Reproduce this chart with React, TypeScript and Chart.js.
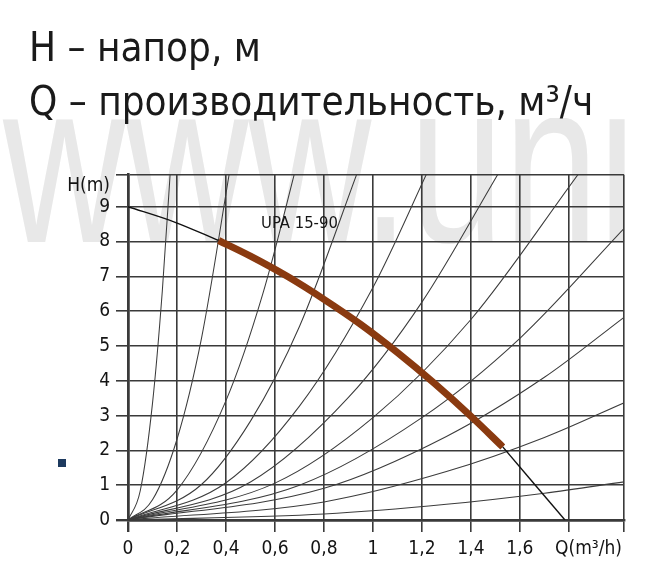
import React, { useEffect, useRef } from "react";
import { Chart, registerables } from "chart.js";

Chart.register(...registerables);

// ---- text ----
const TITLE_LINES = ["H – напор, м", "Q – производительность, м³/ч"];
const WATERMARK = "www.uni";
const CURVE_LABEL = "UPA 15-90";
const CURVE_LABEL_Q = 0.7;
const CURVE_LABEL_H = 8.5;

// ---- axes ----
const Q_TICKS = [0, 0.2, 0.4, 0.6, 0.8, 1, 1.2, 1.4, 1.6, 1.8];
const Q_LABELS = ["0", "0,2", "0,4", "0,6", "0,8", "1", "1,2", "1,4", "1,6", ""];
const Q_MAX = 2.025;
const Q_UNIT = "Q(m³/h)";
const Q_UNIT_AT = 1.88;

const H_TICKS = [0, 1, 2, 3, 4, 5, 6, 7, 8, 9];
const H_LABELS = ["0", "1", "2", "3", "4", "5", "6", "7", "8", "9"];
const H_MAX = 9.92;
const H_UNIT = "H(m)";

// ---- pump curve (UPA 15-90) ----
const HEAD_START_Q = [0, 0.19, 0.37];
const HEAD_START_H = [9, 8.56, 8.03];
const WORK_Q = [0.37, 0.5, 0.65, 0.8, 0.95, 1.1, 1.25, 1.4, 1.53];
const WORK_H = [8.03, 7.58, 7.0, 6.34, 5.62, 4.81, 3.93, 2.98, 2.1];
const TAIL_Q = [1.53, 1.784];
const TAIL_H = [2.1, 0];

// ---- system (pipe) curves ----
const SYS_Q = [
  [0, 0.05, 0.1, 0.14, 0.175],
  [0, 0.1, 0.2, 0.3, 0.42],
  [0, 0.2, 0.4, 0.55, 0.7],
  [0, 0.3, 0.5, 0.7, 0.95],
  [0, 0.4, 0.7, 1.0, 1.23],
  [0, 0.5, 0.9, 1.2, 1.52],
  [0, 0.6, 1.0, 1.4, 1.84],
  [0, 0.7, 1.2, 1.6, 2.03],
  [0, 0.8, 1.3, 1.7, 2.03],
  [0, 0.8, 1.3, 1.7, 2.03],
  [0, 0.8, 1.3, 1.7, 2.03],
];
const SYS_H = [
  [0, 0.84, 3.35, 6.57, 10.26],
  [0, 0.58, 2.32, 5.22, 10.23],
  [0, 0.86, 3.43, 6.49, 10.51],
  [0, 1.02, 2.84, 5.56, 10.24],
  [0, 1.07, 3.27, 6.68, 10.11],
  [0, 1.09, 3.52, 6.26, 10.05],
  [0, 1.06, 2.94, 5.76, 9.95],
  [0, 1.0, 2.94, 5.22, 8.41],
  [0, 0.91, 2.4, 4.1, 5.85],
  [0, 0.52, 1.39, 2.37, 3.38],
  [0, 0.17, 0.45, 0.77, 1.1],
];

const FONT = "'DejaVu Sans Condensed', 'DejaVu Sans', sans-serif";
const GRID = "#3a3a3a";
const TEXT = "#141414";
const BROWN = "#8a3a10";

const pts = (q: number[], h: number[]) => q.map((v, i) => ({ x: v, y: h[i] }));

const lineDs = (q: number[], h: number[], color: string, width: number) => ({
  data: pts(q, h),
  borderColor: color,
  backgroundColor: color,
  borderWidth: width,
  pointRadius: 0,
  fill: false,
  cubicInterpolationMode: "monotone" as const,
  borderCapStyle: "butt" as const,
});

const near = (a: number, b: number) => Math.abs(a - b) < 1e-6;

export default function App() {
  const ref = useRef<HTMLCanvasElement | null>(null);

  useEffect(() => {
    document.body.style.margin = "0";
    const canvas = ref.current;
    if (!canvas) return;

    const watermark = {
      id: "watermark",
      beforeDraw(chart: any) {
        const ctx = chart.ctx;
        ctx.save();
        ctx.beginPath();
        ctx.rect(0, 118, chart.width, 140);
        ctx.clip();
        ctx.fillStyle = "#e8e8e8";
        ctx.font = "170px 'Liberation Sans', Arial, sans-serif";
        ctx.textBaseline = "alphabetic";
        ctx.textAlign = "left";
        ctx.translate(3, 242);
        ctx.scale(1, 1.36);
        ctx.fillText(WATERMARK, 0, 0);
        ctx.restore();
      },
    };

    const curveLabel = {
      id: "curveLabel",
      afterDatasetsDraw(chart: any) {
        const ctx = chart.ctx;
        const x = chart.scales.x.getPixelForValue(CURVE_LABEL_Q);
        const y = chart.scales.y.getPixelForValue(CURVE_LABEL_H);
        ctx.save();
        ctx.fillStyle = TEXT;
        ctx.font = `16.5px ${FONT}`;
        ctx.textAlign = "center";
        ctx.textBaseline = "middle";
        ctx.fillText(CURVE_LABEL, x, y);
        ctx.restore();
      },
    };

    const datasets: any[] = [
      lineDs(WORK_Q, WORK_H, BROWN, 7),
      lineDs(HEAD_START_Q, HEAD_START_H, "#111111", 1.4),
      lineDs(TAIL_Q, TAIL_H, "#111111", 1.4),
      ...SYS_Q.map((q, i) => lineDs(q, SYS_H[i], "#3c3c3c", 1.05)),
    ];

    const chart = new Chart(canvas, {
      type: "line",
      data: { datasets },
      options: {
        animation: false,
        responsive: false,
        devicePixelRatio: 1,
        layout: { padding: { left: 0, top: 174.7, right: 26, bottom: 0 } },
        plugins: { legend: { display: false }, tooltip: { enabled: false } },
        scales: {
          x: {
            type: "linear",
            min: 0,
            max: Q_MAX,
            afterBuildTicks: (scale: any) => {
              scale.ticks = [
                ...Q_TICKS.map((v) => ({ value: v })),
                { value: Q_UNIT_AT },
                { value: Q_MAX },
              ];
            },
            afterFit: (scale: any) => {
              scale.height = 65;
              scale.paddingLeft = 0;
              scale.paddingRight = 0;
              scale.paddingTop = 0;
              scale.paddingBottom = 0;
            },
            ticks: {
              autoSkip: false,
              maxRotation: 0,
              padding: 6,
              color: TEXT,
              font: { family: FONT, size: 19 },
              callback: (value: any) => {
                const v = Number(value);
                if (near(v, Q_UNIT_AT)) return Q_UNIT;
                const i = Q_TICKS.findIndex((t) => near(t, v));
                return i >= 0 ? Q_LABELS[i] : "";
              },
            },
            grid: {
              drawTicks: true,
              tickLength: 12,
              color: (c: any) => (c.tick && near(c.tick.value, Q_UNIT_AT) ? "rgba(0,0,0,0)" : GRID),
              tickColor: (c: any) => (c.tick && near(c.tick.value, Q_UNIT_AT) ? "rgba(0,0,0,0)" : GRID),
              lineWidth: (c: any) => (c.tick && near(c.tick.value, 0) ? 2.4 : 1.6),
            },
            border: { display: true, color: GRID, width: 2.6 },
          },
          y: {
            type: "linear",
            min: 0,
            max: H_MAX,
            afterBuildTicks: (scale: any) => {
              scale.ticks = [...H_TICKS.map((v) => ({ value: v })), { value: H_MAX }];
            },
            afterFit: (scale: any) => {
              scale.width = 128;
              scale.paddingLeft = 0;
              scale.paddingRight = 0;
              scale.paddingTop = 0;
              scale.paddingBottom = 0;
            },
            ticks: {
              autoSkip: false,
              padding: 6,
              color: TEXT,
              font: { family: FONT, size: 19 },
              callback: (value: any) => {
                const v = Number(value);
                if (near(v, H_MAX)) return ["", H_UNIT];
                const i = H_TICKS.findIndex((t) => near(t, v));
                return i >= 0 ? H_LABELS[i] : "";
              },
            },
            grid: {
              drawTicks: true,
              tickLength: 12,
              color: GRID,
              tickColor: GRID,
              lineWidth: (c: any) => (c.tick && near(c.tick.value, 0) ? 2.4 : 1.6),
            },
            border: { display: true, color: GRID, width: 2.6 },
          },
        },
      },
      plugins: [watermark, curveLabel],
    } as any);

    return () => chart.destroy();
  }, []);

  return (
    <div style={{ position: "relative", width: 650, height: 585, overflow: "hidden", background: "#fff" }}>
      <canvas ref={ref} width={650} height={585} style={{ position: "absolute", left: 0, top: 0 }} />
      <div
        style={{
          position: "absolute",
          left: 29,
          top: 20,
          fontFamily: FONT,
          fontSize: 40,
          lineHeight: "54px",
          color: "#1a1a1a",
          whiteSpace: "pre",
        }}
      >
        {TITLE_LINES.map((t, i) => (
          <div key={i}>{t}</div>
        ))}
      </div>
      <div
        style={{
          position: "absolute",
          left: 58,
          top: 459,
          width: 8,
          height: 8,
          background: "#1d3a5f",
        }}
      />
    </div>
  );
}
